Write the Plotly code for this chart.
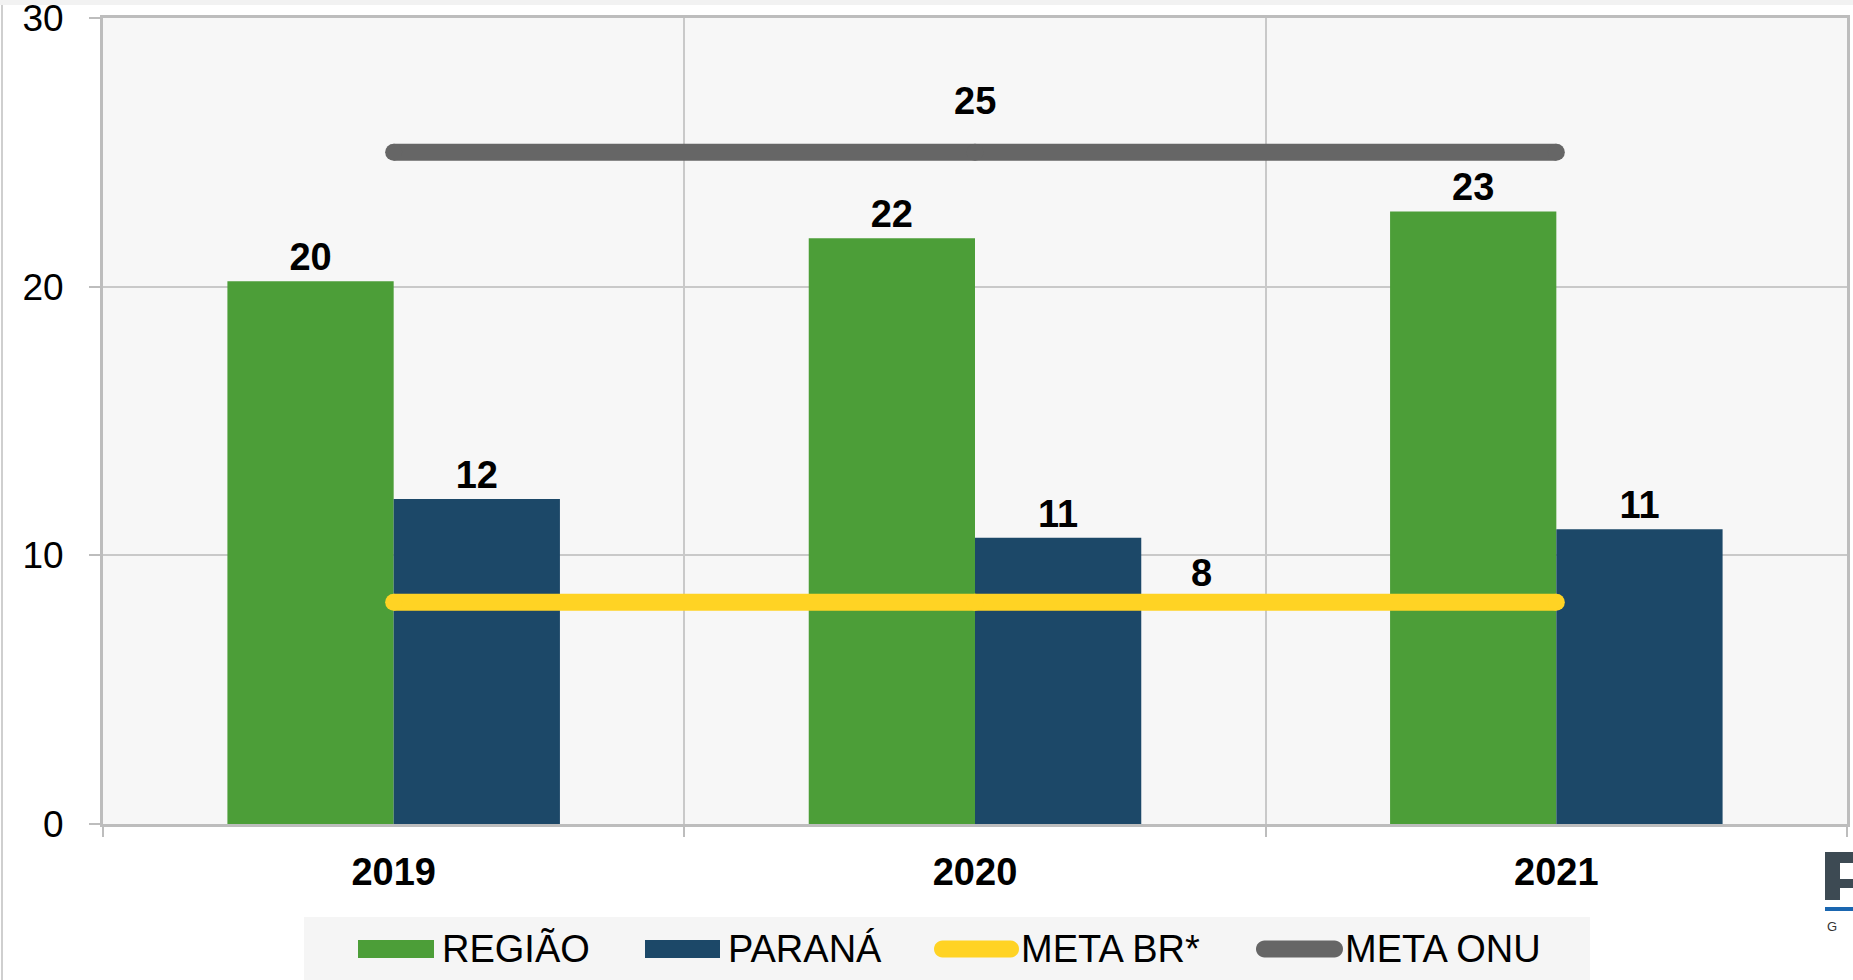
import plotly.graph_objects as go

# ---------------- data ----------------
years = ["2019", "2020", "2021"]
regiao = [20.2, 21.8, 22.8]
parana = [12.1, 10.65, 10.97]
meta_br = [8.25, 8.25, 8.25]
meta_onu = [25, 25, 25]
y_ticks = [0, 10, 20, 30]

# ---------------- style ----------------
FONT = "Liberation Sans, Arial, sans-serif"
GREEN = "#4c9e38"
NAVY = "#1c4868"
YELLOW = "#ffd324"
GRAY = "#666666"
GRID = "#c9c9c9"
FRAME = "#bdbdbd"
W, H = 1853, 980
L, R, T, B = 103, 6, 18, 156
PW, PH = W - L - R, H - T - B


def px_x(p):
    return (p - L) / PW


def px_y(p):
    return (H - B - p) / PH


fig = go.Figure()

fig.add_trace(go.Bar(
    x=years, y=regiao, name="REGIÃO", marker=dict(color=GREEN, line=dict(width=0)),
    texttemplate="%{y:.0f}", textposition="outside",
    textfont=dict(family=FONT, size=38, color="black", weight="bold"),
    cliponaxis=False, showlegend=False))
fig.add_trace(go.Bar(
    x=years, y=parana, name="PARANÁ", marker=dict(color=NAVY, line=dict(width=0)),
    texttemplate="%{y:.0f}", textposition="outside",
    textfont=dict(family=FONT, size=38, color="black", weight="bold"),
    cliponaxis=False, showlegend=False))
fig.add_trace(go.Scatter(
    x=years, y=meta_br, name="META BR*", mode="lines+markers",
    line=dict(color=YELLOW, width=17), marker=dict(color=YELLOW, size=17, line=dict(width=0)),
    showlegend=False, cliponaxis=False))
fig.add_trace(go.Scatter(
    x=years, y=meta_onu, name="META ONU", mode="lines+markers",
    line=dict(color=GRAY, width=17), marker=dict(color=GRAY, size=17, line=dict(width=0)),
    showlegend=False, cliponaxis=False))

annotations = [
    dict(x=1, y=meta_onu[1], xref="x", yref="y", text=f"{meta_onu[1]:.0f}", showarrow=False,
         yshift=51, font=dict(family=FONT, size=38, color="black", weight="bold")),
    dict(x=1.39, y=meta_br[1], xref="x", yref="y", text=f"{meta_br[1]:.0f}", showarrow=False,
         yshift=29, font=dict(family=FONT, size=38, color="black", weight="bold")),
]

shapes = []
# page decorations
shapes.append(dict(type="rect", xref="paper", yref="paper", x0=px_x(0), x1=px_x(W), y0=px_y(0), y1=px_y(5),
                   fillcolor="#f2f2f2", line=dict(width=0), layer="below"))
shapes.append(dict(type="line", xref="paper", yref="paper", x0=px_x(2), x1=px_x(2), y0=px_y(5), y1=px_y(H),
                   line=dict(color="#cfcfcf", width=2)))

# custom legend
LEG_Y = 949
shapes.append(dict(type="rect", xref="paper", yref="paper", x0=px_x(304), x1=px_x(1590), y0=px_y(917), y1=px_y(H),
                   fillcolor="#f5f5f5", line=dict(width=0), layer="below"))


def prect(x0, x1, y0, y1, color):
    return dict(type="rect", xref="paper", yref="paper", x0=px_x(x0), x1=px_x(x1),
                y0=px_y(y1), y1=px_y(y0), fillcolor=color, line=dict(width=0))


def pill(x0, x1, color, h=17):
    r = h / 2.0
    k = 0.5523 * r
    yt, yb, ym = LEG_Y - r, LEG_Y + r, LEG_Y
    pts = [
        ("M", [(x0 + r, yt)]), ("L", [(x1 - r, yt)]),
        ("C", [(x1 - r + k, yt), (x1, ym - k), (x1, ym)]),
        ("C", [(x1, ym + k), (x1 - r + k, yb), (x1 - r, yb)]),
        ("L", [(x0 + r, yb)]),
        ("C", [(x0 + r - k, yb), (x0, ym + k), (x0, ym)]),
        ("C", [(x0, ym - k), (x0 + r - k, yt), (x0 + r, yt)]),
    ]
    path = ""
    for cmd, ps in pts:
        path += cmd + " ".join(f"{px_x(a):.5f},{px_y(b):.5f}" for a, b in ps) + " "
    path += "Z"
    return dict(type="path", xref="paper", yref="paper", path=path, fillcolor=color, line=dict(width=0))


legend_items = [
    ("rect", GREEN, 358, 434, "REGIÃO", 440),
    ("rect", NAVY, 645, 720, "PARANÁ", 726),
    ("pill", YELLOW, 934, 1019, "META BR*", 1019),
    ("pill", GRAY, 1256, 1343, "META ONU", 1343),
]
for kind, col, a, b, label, tx in legend_items:
    shapes.append(prect(a, b, LEG_Y - 9, LEG_Y + 9, col) if kind == "rect" else pill(a, b, col))
    annotations.append(dict(x=px_x(tx), y=px_y(LEG_Y), xref="paper", yref="paper", text=label,
                            showarrow=False, xanchor="left", yanchor="middle",
                            font=dict(family=FONT, size=38, color="black")))

# logo fragment at bottom right (cut by the page edge)
LOGO = "#3d4a53"
shapes.append(prect(1825, W, 852, 888, LOGO))
shapes.append(prect(1840, W, 863, 879, "white"))
shapes.append(prect(1825, 1840, 888, 900, LOGO))
shapes.append(prect(1825, W, 907, 911, "#1a66b0"))
annotations.append(dict(x=px_x(1825), y=px_y(926), xref="paper", yref="paper", text="G", showarrow=False,
                        xanchor="left", yanchor="middle",
                        font=dict(family=FONT, size=13, color="#333333")))

fig.update_layout(
    width=W, height=H, autosize=False,
    margin=dict(l=L, r=R, t=T, b=B, pad=0, autoexpand=False),
    paper_bgcolor="white", plot_bgcolor="#f7f7f7",
    barmode="group", bargap=0.428, bargroupgap=0,
    font=dict(family=FONT, color="black"),
    showlegend=False,
    annotations=annotations, shapes=shapes,
)
fig.update_xaxes(
    type="category", range=[-0.5, 2.5], tickson="boundaries", automargin=False,
    showgrid=True, gridcolor=GRID, gridwidth=2,
    showline=True, linecolor=FRAME, linewidth=3, mirror=True,
    ticks="outside", ticklen=10, tickcolor=FRAME, tickwidth=2,
    tickfont=dict(family=FONT, size=38, color="black", weight="bold"),
    ticklabelstandoff=12, ticklabeloverflow="allow", fixedrange=True,
)
fig.update_yaxes(
    range=[0, 30], tickvals=y_ticks, automargin=False,
    showgrid=True, gridcolor=GRID, gridwidth=2, zeroline=False,
    showline=True, linecolor=FRAME, linewidth=3, mirror=True,
    ticks="outside", ticklen=11, tickcolor=FRAME, tickwidth=2,
    tickfont=dict(family=FONT, size=37, color="black"),
    ticklabelstandoff=18, ticklabeloverflow="allow", fixedrange=True,
)

fig.write_html("out.html", config={"displayModeBar": False},
               post_script="document.body.style.margin='0';document.body.style.overflow='hidden';")
